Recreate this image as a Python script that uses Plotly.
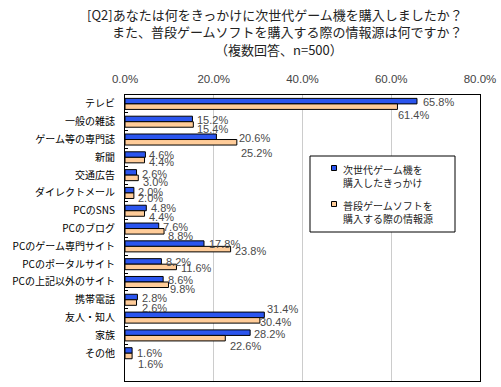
import plotly.graph_objects as go

categories = ["テレビ", "一般の雑誌", "ゲーム等の専門誌", "新聞", "交通広告", "ダイレクトメール",
              "PCのSNS", "PCのブログ", "PCのゲーム専門サイト", "PCのポータルサイト",
              "PCの上記以外のサイト", "携帯電話", "友人・知人", "家族", "その他"]
series_names = ["次世代ゲーム機を<br>購入したきっかけ", "普段ゲームソフトを<br>購入する際の情報源"]
trigger_values = [65.8, 15.2, 20.6, 4.6, 2.6, 2.0, 4.8, 7.6, 17.8, 8.2, 8.6, 2.8, 31.4, 28.2, 1.6]
source_values = [61.4, 15.4, 25.2, 4.4, 3.0, 2.0, 4.4, 8.8, 23.8, 11.6, 9.8, 2.6, 30.4, 22.6, 1.6]
x_ticks = [0, 20, 40, 60, 80]
title_lines = ["[Q2]あなたは何をきっかけに次世代ゲーム機を購入しましたか？",
               "また、普段ゲームソフトを購入する際の情報源は何ですか？",
               "（複数回答、n=500）"]

# --- styling / layout (pixels) ---
W, H = 501, 387
L, R, T, B = 125, 480, 95, 381
BLUE, ORANGE = "#2B55EE", "#FFCC99"
JP = "Noto Sans CJK JP"
NUM = "Liberation Sans, Arial, sans-serif"

# per-label nudges in px (dx right, dy down), as placed in the original chart
blue_dx = [6, 4.5, 22.6, 3.6, 5, 4.5, 4.7, 4.3, 5, 4.6, 5, 4.6, 2.7, 4, 5]
blue_dy = [-2.5, -3, -3, -3.5, -2, -2, -3.5, -2.5, -3.5, -3, -2.5, -3, -10, -2.5, -1.5]
orange_dx = [0.5, 3.7, 4, 4.5, 4.5, 4.5, 4.5, 4, 4.4, 4.5, 1.5, 5, 0, 4.7, 6]
orange_dy = [10.5, 6, 12, 3.5, 6, 4, 5.5, 6.5, 3.5, 3, 6.5, 7, 3.5, 9.5, 9.5]


def px_x(p):
    return (p - L) / (R - L)


def px_y(p):
    return (B - p) / (B - T)


fig = go.Figure()
fig.add_trace(go.Bar(y=categories, x=trigger_values, orientation="h", name=series_names[0],
                     marker=dict(color=BLUE, line=dict(color="black", width=1))))
fig.add_trace(go.Bar(y=categories, x=source_values, orientation="h", name=series_names[1],
                     marker=dict(color=ORANGE, line=dict(color="black", width=1))))

annotations = []
for i, c in enumerate(categories):
    for vals, dx, dy in ((trigger_values, blue_dx, blue_dy), (source_values, orange_dx, orange_dy)):
        annotations.append(dict(
            x=vals[i], y=c, xref="x", yref="y", text=f"{vals[i]:.1f}%", showarrow=False,
            xanchor="left", yanchor="middle", xshift=dx[i], yshift=-dy[i] - 1,
            borderpad=0, borderwidth=0,
            font=dict(family=NUM, size=11, color="#4a4a4a")))

# title lines
annotations.append(dict(x=px_x(465), y=px_y(14.5), xref="paper", yref="paper", text=title_lines[0],
                        showarrow=False, xanchor="right", yanchor="middle",
                        font=dict(family=JP, size=13, color="#222")))
annotations.append(dict(x=px_x(465), y=px_y(31.5), xref="paper", yref="paper", text=title_lines[1],
                        showarrow=False, xanchor="right", yanchor="middle",
                        font=dict(family=JP, size=13, color="#222")))
annotations.append(dict(x=px_x(278.5), y=px_y(49), xref="paper", yref="paper", text=title_lines[2],
                        showarrow=False, xanchor="center", yanchor="middle",
                        font=dict(family=JP, size=13, color="#222")))

# legend (manual box)
shapes = [dict(type="rect", xref="paper", yref="paper", x0=px_x(310), x1=px_x(455),
               y0=px_y(232), y1=px_y(156), line=dict(color="black", width=1), fillcolor="white",
               layer="above")]
for col, yc, name, ty in ((BLUE, 168, series_names[0], 176), (ORANGE, 204, series_names[1], 212)):
    shapes.append(dict(type="rect", xref="paper", yref="paper", x0=px_x(331.5), x1=px_x(336.5),
                       y0=px_y(yc + 2.5), y1=px_y(yc - 2.5), line=dict(color="black", width=1),
                       fillcolor=col, layer="above"))
    annotations.append(dict(x=px_x(341), y=px_y(ty), xref="paper", yref="paper", text=name,
                            showarrow=False, xanchor="left", yanchor="middle", align="left",
                            font=dict(family=JP, size=10, color="#222")))

fig.update_layout(
    width=W, height=H, margin=dict(l=L, r=W - R, t=T, b=H - B),
    paper_bgcolor="white", plot_bgcolor="white",
    barmode="group", bargap=0.38, bargroupgap=0,
    showlegend=False, annotations=annotations, shapes=shapes,
    xaxis=dict(range=[0, 80], side="top", tickvals=x_ticks,
               ticktext=[f"{v:.1f}%" for v in x_ticks],
               showgrid=True, gridcolor="#cccccc", gridwidth=1, zeroline=False,
               showline=True, linecolor="black", linewidth=1, mirror=True,
               ticks="", ticklabelstandoff=6,
               tickfont=dict(family=NUM, size=11.5, color="#444")),
    yaxis=dict(type="category", categoryorder="array", categoryarray=categories,
               range=[15.56, -0.5], showgrid=False, zeroline=False,
               showline=True, linecolor="black", linewidth=1, mirror=True,
               ticks="inside", ticklen=3, tickcolor="black", tickson="boundaries",
               ticklabelstandoff=7,
               tickfont=dict(family=JP, size=10, color="black")),
)

fig.write_html("out.html", config={"displayModeBar": False},
               post_script="document.body.style.margin='0';document.body.style.overflow='hidden';")
